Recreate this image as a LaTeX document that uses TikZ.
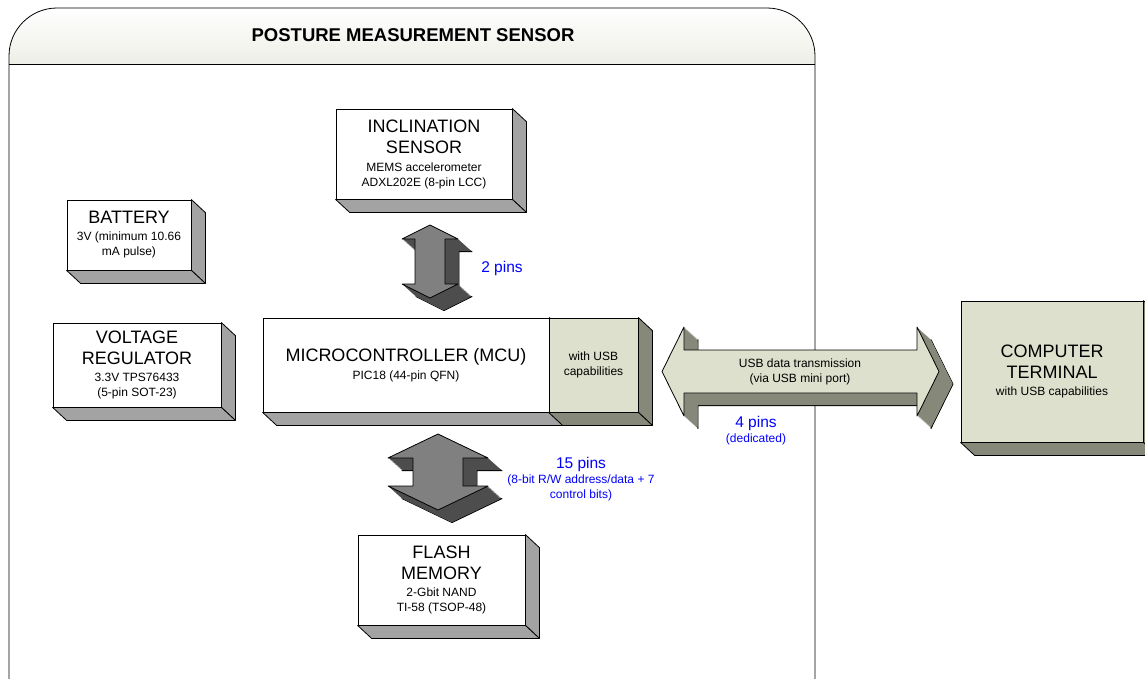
\documentclass[tikz,border=0pt]{standalone}
\usepackage{fontspec}
\setmainfont{Liberation Sans}

\definecolor{usbgreen}{HTML}{DDE0CC}
\definecolor{usbside}{HTML}{868879}
\definecolor{headgreen}{HTML}{EDEFE6}
\definecolor{pinblue}{HTML}{0000FF}
\definecolor{blockside}{HTML}{A3A3A3}
\definecolor{arrowfront}{HTML}{808080}
\definecolor{arrowback}{HTML}{4D4D4D}

\newcommand{\bigf}{\fontsize{18}{21}\selectfont}
\newcommand{\smallf}{\fontsize{12}{15}\selectfont}
\newcommand{\pinf}{\fontsize{15.5}{18}\selectfont}

\tikzset{
  block/.style={draw, line width=0.8pt, inner sep=0pt, align=center, font=\smallf},
  whiteblock/.style={block, fill=white},
  greenblock/.style={block, fill=usbgreen},
  pinlabel/.style={text=pinblue, align=center, font=\smallf},
  title/.style={font=\fontsize{18.5}{22}\selectfont\bfseries}
}

% side and bottom faces of a block
\newcommand{\blockdepth}[2]{%
  \filldraw[fill=#2, line width=0.8pt, line join=round] (#1.north east) -- ([shift={(14,13)}]#1.north east)
    -- ([shift={(14,13)}]#1.south east) -- (#1.south east) -- cycle;
  \filldraw[fill=#2, line width=0.8pt, line join=round] (#1.south west) -- ([shift={(14,13)}]#1.south west)
    -- ([shift={(14,13)}]#1.south east) -- (#1.south east) -- cycle;
}

% flat double arrow: half length, head half width, shaft half width, head length
\newcommand{\arrowpath}[4]{(-#1,0) -- ({-#1+#4},-#2) -- ({-#1+#4},-#3) -- ({#1-#4},-#3)
  -- ({#1-#4},-#2) -- (#1,0) -- ({#1-#4},#2) -- ({#1-#4},#3) -- ({-#1+#4},#3) -- ({-#1+#4},#2) -- cycle}

% solid double arrow: centre, angle, sizes, front and back colour
\newcommand{\solidarrow}[8]{%
  \filldraw[fill=#8, line width=0.8pt, line join=round, shift={(#1)}, shift={(14,12.6)}, rotate=#2] \arrowpath{#3}{#4}{#5}{#6};
  \foreach \s in {13.5,13,...,0.5}
    \fill[#8, shift={(#1)}, shift={(\s,0.9*\s)}, rotate=#2] \arrowpath{#3}{#4}{#5}{#6};
  \filldraw[fill=#7, line width=0.8pt, line join=round, shift={(#1)}, rotate=#2] \arrowpath{#3}{#4}{#5}{#6};
}

\begin{document}
\begin{tikzpicture}[x=1pt, y=-1pt]

\useasboundingbox (0,0) rectangle (1145,678);
\fill[white] (0,0) rectangle (1145,678);

% sensor housing
\shade[top color=white, bottom color=headgreen] (9,64) -- (9,56) arc[start angle=180, end angle=270, radius=48]
  -- (767,8) arc[start angle=270, end angle=360, radius=48] -- (815,64) -- cycle;
\draw[line width=0.8pt] (9,700) -- (9,56) arc[start angle=180, end angle=270, radius=48]
  -- (767,8) arc[start angle=270, end angle=360, radius=48] -- (815,700);
\draw[line width=0.8pt] (9,64) -- (815,64);
\node[title] (title) at (413,35) {POSTURE MEASUREMENT SENSOR};

% blocks
\node[whiteblock, minimum width=176pt, minimum height=90pt] (incl) at (424,154)
  {\bigf INCLINATION\\[6pt]\bigf SENSOR\\[3pt]MEMS accelerometer\\ADXL202E (8-pin LCC)};
\blockdepth{incl}{blockside}

\node[whiteblock, minimum width=124pt, minimum height=70pt] (batt) at (129,235)
  {\bigf BATTERY\\[2pt]3V (minimum 10.66\\mA pulse)};
\blockdepth{batt}{blockside}

\node[whiteblock, minimum width=168pt, minimum height=84pt] (vreg) at (137,365)
  {\bigf VOLTAGE\\[6pt]\bigf REGULATOR\\[2pt]3.3V TPS76433\\(5-pin SOT-23)};
\blockdepth{vreg}{blockside}

\node[whiteblock, minimum width=286pt, minimum height=94pt] (mcu) at (406,365)
  {\bigf MICROCONTROLLER (MCU)\\[3pt]PIC18 (44-pin QFN)};
\blockdepth{mcu}{blockside}

\node[greenblock, minimum width=89pt, minimum height=94pt] (usb) at (593.5,365)
  {with USB\\capabilities};
\blockdepth{usb}{usbside}

\node[whiteblock, minimum width=167pt, minimum height=90pt] (flash) at (441.5,580)
  {\bigf FLASH\\[6pt]\bigf MEMORY\\[2pt]2-Gbit NAND\\TI-58 (TSOP-48)};
\blockdepth{flash}{blockside}

\node[greenblock, minimum width=182pt, minimum height=141pt] (comp) at (1052,371.5)
  {\bigf COMPUTER\\[6pt]\bigf TERMINAL\\[2pt]with USB capabilities};
\blockdepth{comp}{usbside}

% links
\coordinate (inclmcu) at (430,261.5);
\coordinate (mcuflash) at (438,472);
\coordinate (usblink) at (800.5,371.5);

\solidarrow{inclmcu}{90}{36.5}{28}{15}{14}{arrowfront}{arrowback}
\solidarrow{mcuflash}{90}{38}{50}{25}{24}{arrowfront}{arrowback}
\solidarrow{usblink}{0}{138.5}{44.5}{21.5}{22}{usbgreen}{usbside}

\node[font=\smallf, align=center] (usbtext) at (800,372) {USB data transmission\\(via USB mini port)};

\node[pinlabel, font=\pinf] (pins2) at (502,268) {2 pins};
\node[pinlabel] (pins15) at (581,479) {\pinf 15 pins\\(8-bit R/W address/data + 7\\control bits)};
\node[pinlabel] (pins4) at (756,431) {\pinf 4 pins\\(dedicated)};

\end{tikzpicture}
\end{document}
